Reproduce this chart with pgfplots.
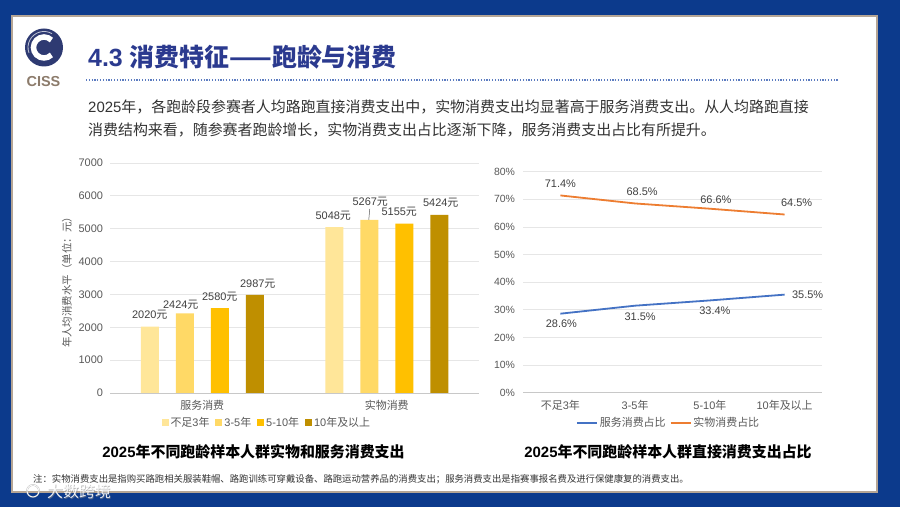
\documentclass[border=0pt]{standalone}
\usepackage{pgfplots}
\pgfplotsset{compat=1.18}
\usepackage{fontspec}
\setmainfont{Noto Sans CJK SC}
\newfontfamily\lat{Liberation Sans}
\definecolor{bgblue}{HTML}{0C3A8C}
\definecolor{navy}{HTML}{2B3A8F}
\definecolor{logonavy}{HTML}{2E3A72}
\definecolor{cissgray}{HTML}{8C7B6B}
\definecolor{txt}{HTML}{333333}
\definecolor{tickc}{HTML}{595959}
\definecolor{labc}{HTML}{404040}
\definecolor{gridc}{HTML}{E6E6E6}
\definecolor{axisc}{HTML}{C8C8C8}
\definecolor{panelb}{HTML}{B5A595}
\definecolor{dotc}{HTML}{5B7BC0}
\definecolor{c1}{HTML}{FFE699}
\definecolor{c2}{HTML}{FFD966}
\definecolor{c3}{HTML}{FFC000}
\definecolor{c4}{HTML}{BF8F00}
\definecolor{lblue}{HTML}{4472C4}
\definecolor{lorange}{HTML}{ED7D31}
\pgfplotsset{
  shiftlab/.style={
    visualization depends on={value \thisrow{dx}\as\dx},
    visualization depends on={value \thisrow{dy}\as\dy},
    every node near coord/.append style={anchor=center, xshift=\dx bp, yshift=\dy bp,
      font=\fontsize{11}{13}\selectfont, text=labc, inner sep=0pt}},
  barlab/.style={shiftlab, point meta=y,
    nodes near coords={{\lat\pgfmathprintnumber{\pgfplotspointmeta}}元}},
  pctlab/.style={shiftlab, point meta=y,
    nodes near coords={{\lat\pgfmathprintnumber[fixed,precision=1,zerofill]{\pgfplotspointmeta}\%}}},
}
\begin{document}
\begin{tikzpicture}
\begin{scope}[x=1bp,y=1bp]
\useasboundingbox (0,0) rectangle (900,507);
\fill[bgblue] (0,0) rectangle (900,507);
\fill[white] (12,15) rectangle (877,491);
\draw[panelb, line width=1.5bp] (12,15) rectangle (877,491);
% logo
\fill[logonavy] (44,459.5) circle (19);
\draw[white, line width=5.5bp] (44,459.5) ++(45:10.5) arc (45:315:10.5);
\draw[white!70!logonavy, line width=0.8bp] (44,459.5) ++(60:16) arc (60:200:16);
\node[text=cissgray, font=\fontsize{14.5}{16}\selectfont\bfseries\lat] at (43.5,425) {CISS};
% title
\node[anchor=west, text=navy, font=\fontsize{25}{30}\selectfont\bfseries, inner sep=0pt] at (88,450) {{\lat 4.3 }消费特征——跑龄与消费};
\draw[dotc, line width=1.2bp, dash pattern=on 1.2bp off 1.6bp] (86,427) -- (838,427);
\node[anchor=west, text=txt, font=\fontsize{15}{18}\selectfont, inner sep=0pt] at (88,400) {{\lat 2025}年，各跑龄段参赛者人均路跑直接消费支出中，实物消费支出均显著高于服务消费支出。从人均路跑直接};
\node[anchor=west, text=txt, font=\fontsize{15}{18}\selectfont, inner sep=0pt] at (88,377) {消费结构来看，随参赛者跑龄增长，实物消费支出占比逐渐下降，服务消费支出占比有所提升。};
% left y label
\node[rotate=90, text=tickc, font=\fontsize{10.5}{12}\selectfont] at (67,227) {年人均消费水平（单位：元）};
% chart titles
\node[text=black, font=\fontsize{15}{18}\selectfont\bfseries] at (253.5,55.3) {{\lat 2025}年不同跑龄样本人群实物和服务消费支出};
\node[text=black, font=\fontsize{15}{18}\selectfont\bfseries] at (668,55.3) {{\lat 2025}年不同跑龄样本人群直接消费支出占比};
% footnote
\node[anchor=west, text=txt, font=\fontsize{9.4}{11}\selectfont, inner sep=0pt] at (33,28) {注：实物消费支出是指购买路跑相关服装鞋帽、路跑训练可穿戴设备、路跑运动营养品的消费支出；服务消费支出是指赛事报名费及进行保健康复的消费支出。};
% watermark
\draw[gray, opacity=0.6, line width=1.6bp] (33,16) circle (6);
\draw[white, opacity=0.9, line width=1bp] (33,16) circle (6);
\node[anchor=west, text=gray, opacity=0.6, font=\fontsize{16}{18}\selectfont, inner sep=0pt] at (47.7,14.8) {大数跨境};
\node[anchor=west, text=white, opacity=0.9, font=\fontsize{16}{18}\selectfont, inner sep=0pt] at (47,15.5) {大数跨境};
\end{scope}
% left chart
\begin{axis}[
  at={(110bp,114bp)}, anchor=south west, scale only axis,
  width=369bp, height=230bp,
  xmin=-0.5, xmax=1.5, ymin=0, ymax=7000,
  ytick={0,1000,...,7000}, xtick={0,1}, xticklabels={服务消费,实物消费},
  axis line style={draw=none}, major tick length=0pt,
  ymajorgrids, major grid style={gridc, line width=0.8bp},
  yticklabel style={font=\fontsize{11}{13}\selectfont\lat, text=tickc, xshift=-3.5bp},
  xticklabel style={font=\fontsize{11}{13}\selectfont, text=tickc, yshift=-4bp},
  /pgf/number format/1000 sep={}, /pgf/number format/assume math mode=true,
  ybar, bar width=18bp, clip=false,
  legend style={at={(0.425,-0.13)}, anchor=center, draw=none, fill=none,
    font=\fontsize{11}{13}\selectfont, text=tickc, legend columns=4,
    /tikz/every even column/.append style={column sep=4bp},
    inner sep=0pt},
  legend image code/.code={\fill[#1] (0bp,-3.5bp) rectangle (7bp,3.5bp);},
]
\draw[axisc, line width=0.9bp] (rel axis cs:0,0) -- (rel axis cs:1,0);
\addplot[fill=c1, draw=none, bar shift=-52.5bp, barlab] table {
x y dx dy
0 2020 0 11.5
1 5048 -1 11
};
\addlegendentry{不足{\lat 3}年}
\addplot[fill=c2, draw=none, bar shift=-17.5bp, barlab] table {
x y dx dy
0 2424 -4 9
1 5267 1 18
};
\addlegendentry{{\lat 3-5}年}
\addplot[fill=c3, draw=none, bar shift=17.5bp, barlab] table {
x y dx dy
0 2580 0 11.5
1 5155 -5 11.6
};
\addlegendentry{{\lat 5-10}年}
\addplot[fill=c4, draw=none, bar shift=52.5bp, barlab] table {
x y dx dy
0 2987 3 11
1 5424 1.5 12
};
\addlegendentry{{\lat 10}年及以上}
\draw[tickc, line width=0.5bp] ([xshift=-18bp]axis cs:1,5267) -- ++(1bp,11bp);
\end{axis}
% right chart
\begin{axis}[
  at={(523bp,114.3bp)}, anchor=south west, scale only axis,
  width=299bp, height=221bp,
  xmin=-0.5, xmax=3.5, ymin=0, ymax=80,
  ytick={0,10,...,80}, yticklabel={\pgfmathprintnumber{\tick}\%},
  xtick={0,1,2,3}, xticklabels={不足{\lat 3}年,{\lat 3-5}年,{\lat 5-10}年,{\lat 10}年及以上},
  axis line style={draw=none}, major tick length=0pt,
  ymajorgrids, major grid style={gridc, line width=0.8bp},
  yticklabel style={font=\fontsize{10.5}{13}\selectfont\lat, text=tickc, xshift=-4.5bp},
  xticklabel style={font=\fontsize{11}{13}\selectfont, text=tickc, yshift=-4bp},
  /pgf/number format/assume math mode=true,
  clip=false,
  legend style={at={(0.487,-0.136)}, anchor=center, draw=none, fill=none,
    font=\fontsize{11}{13}\selectfont, text=tickc, legend columns=2,
    /tikz/every even column/.append style={column sep=2bp},
    inner sep=0pt},
  legend image code/.code={\draw[#1, line width=1.8bp] (0bp,0bp) -- (20bp,0bp);},
]
\draw[axisc, line width=0.9bp] (rel axis cs:0,0) -- (rel axis cs:1,0);
\addplot[lblue, line width=1.8bp, no marks, pctlab] table {
x y dx dy
0 28.6 1 -10
1 31.5 5 -11
2 33.4 5 -10.6
3 35.5 23 0
};
\addlegendentry{服务消费占比}
\addplot[lorange, line width=1.8bp, no marks, pctlab] table {
x y dx dy
0 71.4 0 11.5
1 68.5 7 11.5
2 66.6 6 9
3 64.5 12 11.5
};
\addlegendentry{实物消费占比}
\end{axis}
\end{tikzpicture}
\end{document}
